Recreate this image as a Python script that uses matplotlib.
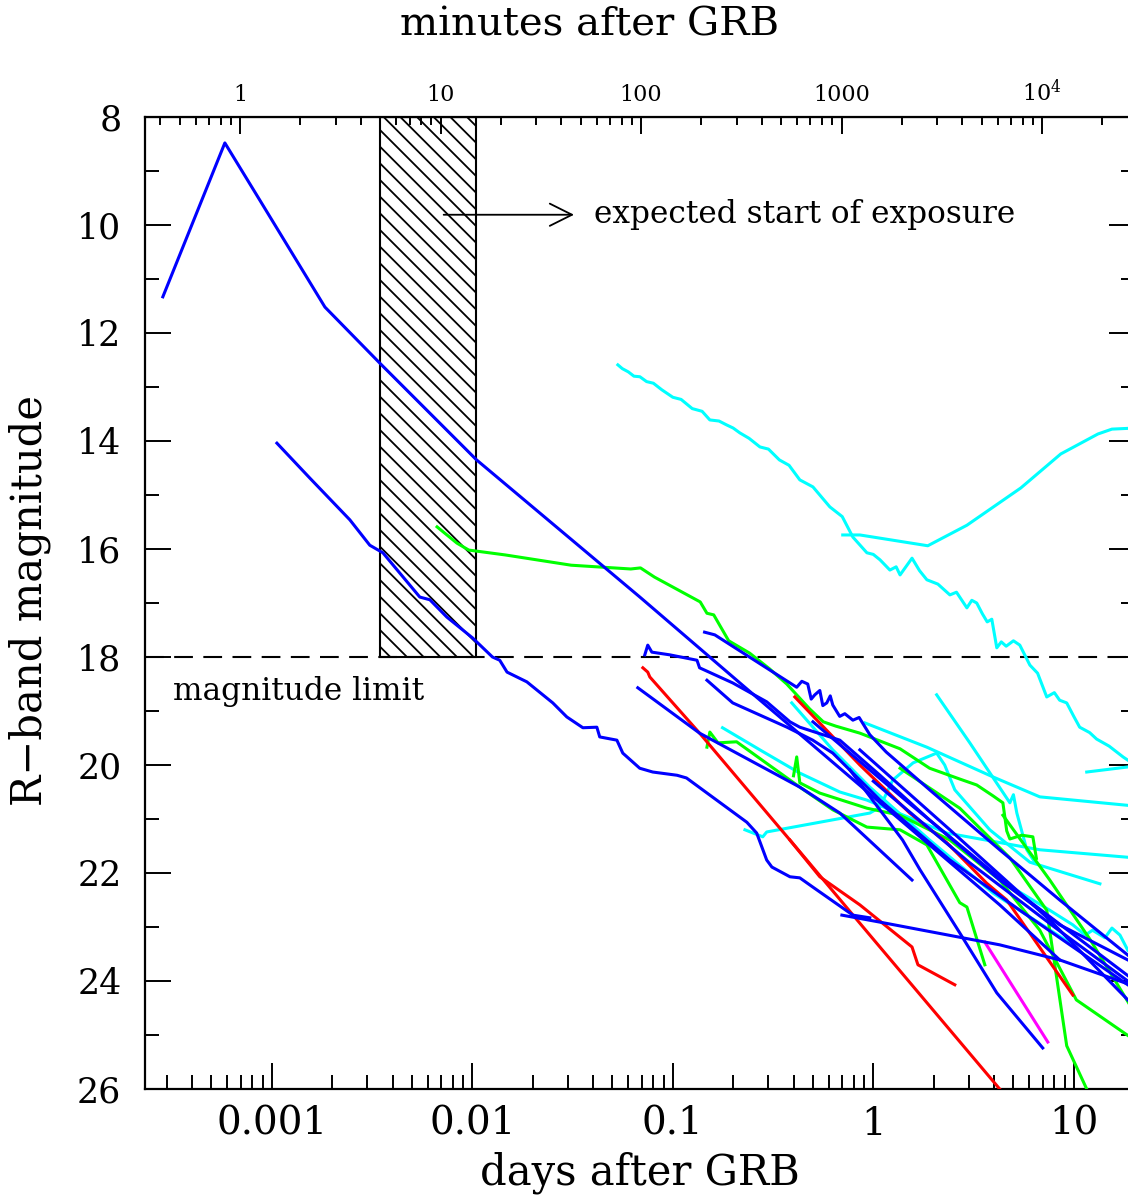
import numpy as np
import matplotlib
matplotlib.use("Agg")
import matplotlib.pyplot as plt
from matplotlib.ticker import LogLocator, MultipleLocator, NullFormatter
from matplotlib.patches import Rectangle

plt.rcParams['font.family'] = 'DejaVu Serif'
plt.rcParams['mathtext.fontset'] = 'dejavuserif'
plt.rcParams['hatch.linewidth'] = 1.3

# light curves: time in days after GRB, R-band magnitude
# blue
b1_t = [2.86e-4, 5.83e-4, 8.71e-4, 1.84e-3, 3.46e-3, 1.05e-2, 0.0685, 0.216, 1.0, 4.27, 8.51]
b1_m = [11.33, 8.48, 9.54, 11.52, 12.56, 14.35, 16.89, 18.48, 20.59, 22.59, 23.61]
b2_t = [1.06e-3, 1.55e-3, 2.45e-3, 3.08e-3, 3.58e-3, 5.47e-3, 6.14e-3, 7.46e-3, 1.005e-2,
        1.26e-2, 1.37e-2, 1.49e-2, 1.87e-2, 2.52e-2, 2.96e-2, 3.56e-2, 4.18e-2, 4.32e-2,
        5.26e-2, 5.63e-2, 6.84e-2, 7.94e-2, 0.105, 0.117, 0.234, 0.262, 0.294, 0.312,
        0.384, 0.430, 0.499, 0.791, 0.961]
b2_m = [14.04, 14.69, 15.46, 15.93, 16.07, 16.89, 16.94, 17.26, 17.65,
        18.00, 18.06, 18.28, 18.46, 18.85, 19.11, 19.31, 19.30, 19.48,
        19.54, 19.78, 20.06, 20.13, 20.19, 20.24, 21.06, 21.26, 21.76, 21.89,
        22.07, 22.09, 22.26, 22.78, 22.83]
b3_t = [0.0725, 0.0750, 0.0786, 0.0966, 0.132, 0.136, 0.199, 0.294, 0.384, 0.430, 0.681,
        1.08, 1.91, 4.27, 8.51, 18.6]
b3_m = [17.96, 17.78, 17.91, 17.96, 18.06, 18.20, 18.48, 18.83, 19.20, 19.30, 19.54,
        20.19, 21.02, 22.13, 22.96, 23.61]
b4_t = [0.144, 0.162, 0.415, 0.440, 0.471, 0.490, 0.511, 0.541, 0.560, 0.586, 0.610, 0.628,
        0.680, 0.721, 0.791, 0.850, 0.961, 1.16, 1.91, 4.27, 8.51, 18.6]
b4_m = [17.54, 17.59, 18.56, 18.45, 18.50, 18.78, 18.70, 18.62, 18.90, 18.85, 18.72, 18.89,
        19.10, 19.05, 19.17, 19.12, 19.44, 19.76, 20.46, 21.57, 22.50, 23.52]
b5_t = [0.148, 0.199, 0.371, 0.499, 0.628, 1.08, 2.41, 5.38, 18.6]
b5_m = [18.43, 18.85, 19.30, 19.54, 19.78, 20.65, 21.76, 22.69, 24.07]
b6_t = [0.0669, 0.136, 0.430, 0.681, 1.56]
b6_m = [18.57, 19.41, 20.41, 20.89, 22.13]
b7_t = [0.697, 1.08, 4.27, 8.51, 20.2]
b7_m = [22.78, 22.91, 23.33, 23.61, 24.10]
b8_t = [0.764, 1.40, 1.71, 2.70, 4.13, 7.00]
b8_m = [20.09, 21.39, 21.94, 23.11, 24.22, 25.24]
b9_t = [0.857, 2.41, 7.59, 18.6]
b9_m = [19.72, 21.20, 22.87, 24.35]
b10_t = [0.50, 1.50, 5.00, 18.6]
b10_m = [19.20, 20.70, 22.30, 23.90]
b11_t = [1.00, 3.00, 8.00, 18.6]
b11_m = [20.30, 21.80, 23.00, 24.00]

# red
r1_t = [0.0709, 0.0750, 0.0768, 0.136, 0.466, 0.961, 4.27]
r1_m = [18.20, 18.28, 18.37, 19.41, 21.76, 23.15, 26.0]
r2_t = [0.384, 0.541, 0.857, 1.56, 1.67, 2.55]
r2_m = [21.39, 22.07, 22.59, 23.37, 23.70, 24.07]
r3_t = [0.406, 0.857, 1.52, 2.33, 3.68, 4.63, 9.89]
r3_m = [18.74, 20.00, 20.89, 21.44, 22.19, 22.50, 24.26]

# magenta
p1_t = [3.60, 7.42]
p1_m = [23.28, 25.13]

# green
g1_t = [6.67e-3, 8.37e-3, 9.6e-3, 0.0146, 0.0311, 0.0617, 0.0690, 0.0810, 0.137, 0.148,
        0.160, 0.190, 0.242, 0.304, 0.370, 0.481, 0.563, 0.650, 0.857, 1.36, 1.91, 2.70,
        3.28, 3.95, 4.43, 4.63, 4.80, 5.50, 6.25, 6.51]
g1_m = [15.59, 15.89, 16.02, 16.11, 16.30, 16.37, 16.35, 16.52, 16.98, 17.19,
        17.22, 17.70, 17.93, 18.22, 18.50, 18.96, 19.20, 19.28, 19.41, 19.70, 20.06, 20.26,
        20.37, 20.57, 20.70, 21.22, 21.37, 21.30, 21.33, 21.73]
g2_t = [0.148, 0.153, 0.168, 0.208, 0.430, 0.628, 0.929, 1.36, 1.85, 2.70, 2.93, 3.60]
g2_m = [19.67, 19.39, 19.59, 19.57, 20.41, 20.83, 21.15, 21.20, 21.48, 22.55, 22.63, 23.70]
g3_t = [0.400, 0.415, 0.430, 0.541, 0.929, 1.36, 2.41, 4.27, 6.77, 10.3, 20.2]
g3_m = [20.20, 19.85, 20.33, 20.52, 20.80, 20.93, 21.39, 22.13, 23.06, 24.35, 25.10]
g4_t = [1.36, 2.70, 4.80, 7.33, 9.22, 11.6]
g4_m = [20.06, 20.80, 21.72, 22.69, 25.20, 26.0]
g5_t = [4.43, 7.59, 12.1, 20.2]
g5_m = [20.93, 22.13, 23.24, 24.60]

# cyan
c1_t = [0.0532, 0.0560, 0.0600, 0.0640, 0.0685, 0.0740, 0.0800, 0.0880, 0.100, 0.110, 0.125,
        0.140, 0.153, 0.170, 0.185, 0.200, 0.216, 0.240, 0.272, 0.300, 0.340, 0.380,
        0.430, 0.500, 0.607, 0.700, 0.791, 0.929, 1.00, 1.08, 1.21, 1.30, 1.36, 1.56, 1.70,
        1.85, 2.10, 2.41, 2.60, 2.93, 3.10, 3.28, 3.50, 3.70, 3.90, 4.13, 4.35, 4.60, 5.00,
        5.38, 6.04, 6.60, 7.33, 8.00, 8.50, 9.22, 10.0, 10.7, 12.0, 13.0, 15.0, 17.6, 20.2]
c1_m = [12.59, 12.66, 12.72, 12.80, 12.81, 12.90, 12.93, 13.05, 13.19, 13.23, 13.40,
        13.45, 13.61, 13.63, 13.70, 13.76, 13.85, 13.95, 14.11, 14.15, 14.35, 14.45,
        14.72, 14.85, 15.22, 15.40, 15.78, 16.07, 16.10, 16.20, 16.39, 16.33, 16.48, 16.17, 16.40,
        16.57, 16.65, 16.85, 16.80, 17.09, 16.95, 17.00, 17.20, 17.35, 17.30, 17.83, 17.72, 17.80,
        17.70, 17.78, 18.15, 18.30, 18.74, 18.66, 18.80, 18.85, 19.10, 19.30, 19.40, 19.52, 19.65,
        19.85, 20.00]
c2_t = [0.704, 0.857, 1.87, 2.93, 5.44, 8.61, 13.2, 15.5, 20.2]
c2_m = [15.74, 15.74, 15.94, 15.56, 14.87, 14.24, 13.87, 13.78, 13.76]
c3_t = [11.6, 20.2]
c3_m = [20.13, 20.02]
c4_t = [2.07, 3.03, 4.80, 5.00, 5.20, 5.83, 6.39]
c4_m = [18.70, 19.59, 20.70, 20.55, 20.89, 21.57, 21.80]
c5_t = [0.907, 1.85, 3.95, 6.77, 20.2]
c5_m = [19.22, 19.67, 20.22, 20.59, 20.76]
c6_t = [0.177, 0.272, 0.430, 0.681, 0.929, 2.33, 6.77, 20.2]
c6_m = [19.31, 19.72, 20.15, 20.50, 20.65, 21.26, 21.57, 21.72]
c7_t = [0.229, 0.281, 0.294, 0.961, 1.08, 1.25, 1.58, 2.07, 2.27, 2.55, 3.81, 6.04, 13.5]
c7_m = [21.20, 21.33, 21.24, 20.89, 20.78, 20.28, 19.96, 19.78, 20.00, 20.46, 21.20, 21.80, 22.20]
c8_t = [0.392, 0.628, 0.961, 1.91, 3.95, 9.89]
c8_m = [18.85, 19.72, 20.41, 21.39, 22.37, 23.33]
c9_t = [4.27, 7.59, 9.89, 11.4, 12.4, 14.3, 15.5, 17.0, 18.6]
c9_m = [22.13, 22.69, 22.96, 23.15, 23.06, 23.20, 23.02, 23.15, 23.43]

curves = [
    (c1_t, c1_m, 'cyan'), (c2_t, c2_m, 'cyan'), (c3_t, c3_m, 'cyan'), (c4_t, c4_m, 'cyan'),
    (c5_t, c5_m, 'cyan'), (c6_t, c6_m, 'cyan'), (c7_t, c7_m, 'cyan'), (c8_t, c8_m, 'cyan'),
    (c9_t, c9_m, 'cyan'),
    (g1_t, g1_m, 'lime'), (g2_t, g2_m, 'lime'), (g3_t, g3_m, 'lime'), (g4_t, g4_m, 'lime'),
    (g5_t, g5_m, 'lime'),
    (r1_t, r1_m, 'red'), (r2_t, r2_m, 'red'), (r3_t, r3_m, 'red'),
    (p1_t, p1_m, 'magenta'),
    (b1_t, b1_m, 'blue'), (b2_t, b2_m, 'blue'), (b3_t, b3_m, 'blue'), (b4_t, b4_m, 'blue'),
    (b5_t, b5_m, 'blue'), (b6_t, b6_m, 'blue'), (b7_t, b7_m, 'blue'), (b8_t, b8_m, 'blue'),
    (b9_t, b9_m, 'blue'), (b10_t, b10_m, 'blue'), (b11_t, b11_m, 'blue'),
]

mag_limit = 18.0
window_min = (5.0, 15.0)      # expected start of exposure, minutes

fig = plt.figure(figsize=(11.28, 11.95), dpi=100)
ax = fig.add_axes([145/1128, 106/1195, 990/1128, 972/1195])

for t, m, col in curves:
    ax.plot(t, m, color=col, lw=2.2, solid_joinstyle='round', zorder=3)

ax.axhline(mag_limit, color='black', lw=1.5, dashes=(9, 5), zorder=2)
ax.add_patch(Rectangle((window_min[0]/1440, 8), (window_min[1]-window_min[0])/1440,
                       mag_limit-8, facecolor='none', edgecolor='black', lw=1.5,
                       hatch='\\\\', zorder=2))
ax.annotate('', xy=(0.0332, 9.81), xytext=(0.00697, 9.81),
            arrowprops=dict(arrowstyle='->', lw=1.3, color='black',
                            mutation_scale=40), zorder=5)
ax.text(0.0403, 9.81, 'expected start of exposure', fontsize=22.5, va='center', ha='left')
ax.text(3.2e-4, 18.63, 'magnitude limit', fontsize=22.5, va='center', ha='left')

ax.set_xscale('log')
ax.set_xlim(2.33e-4, 20.2)
ax.set_ylim(26, 8)

ax.set_xticks([0.001, 0.01, 0.1, 1, 10], labels=['0.001', '0.01', '0.1', '1', '10'])
ax.xaxis.set_minor_locator(LogLocator(base=10, subs=np.arange(2, 10)))
ax.xaxis.set_minor_formatter(NullFormatter())
ax.set_yticks(np.arange(8, 27, 2))
ax.yaxis.set_minor_locator(MultipleLocator(1))

ax.tick_params(axis='x', which='both', direction='in', top=False, bottom=True,
               labelsize=28, pad=12)
ax.tick_params(axis='y', which='both', direction='in', left=True, right=True,
               labelsize=25, pad=17)
ax.tick_params(which='major', length=19, width=1.4)
ax.tick_params(which='minor', length=10, width=1.4)
for s in ax.spines.values():
    s.set_linewidth(1.6)

sec = ax.secondary_xaxis('top', functions=(lambda d: d*1440, lambda mn: mn/1440))
sec.set_xticks([1, 10, 100, 1000, 1e4], labels=['1', '10', '100', '1000', '10$^4$'])
sec.xaxis.set_minor_locator(LogLocator(base=10, subs=np.arange(2, 10)))
sec.xaxis.set_minor_formatter(NullFormatter())
sec.tick_params(which='both', direction='in', labelsize=16, pad=8, width=1.4)
sec.tick_params(which='major', length=12)
sec.tick_params(which='minor', length=6)

fig.text(590/1128, 1-25/1195, 'minutes after GRB', fontsize=29, ha='center', va='center')
fig.text(640/1128, 1-1173/1195, 'days after GRB', fontsize=30, ha='center', va='center')
fig.text(30/1128, 1-600/1195, 'R\u2212band magnitude', fontsize=30, ha='center',
         va='center', rotation=90)

fig.savefig('out.png', dpi=100)
